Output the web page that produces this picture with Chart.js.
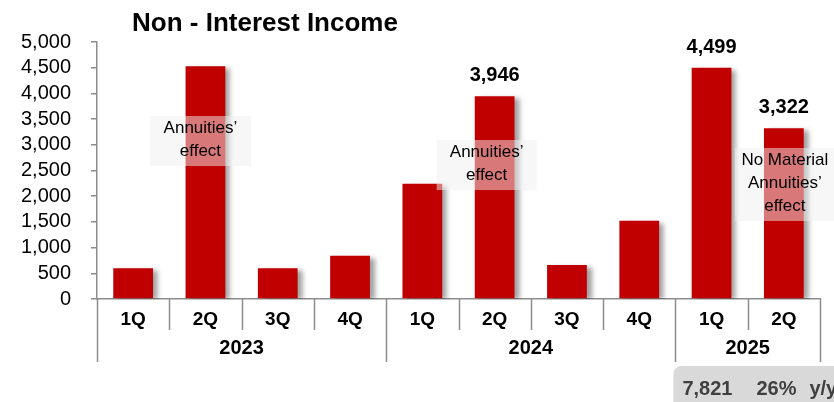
<!DOCTYPE html>
<html>
<head>
<meta charset="utf-8">
<script src="https://cdn.jsdelivr.net/npm/chart.js@4.4.1/dist/chart.umd.min.js"></script>
<style>
  html, body { margin: 0; padding: 0; background: #ffffff; }
  #wrap { width: 834px; height: 402px; position: relative; overflow: hidden; }
</style>
</head>
<body>
<div id="wrap"><canvas id="chart" width="834" height="402"></canvas></div>
<script>
// Quarterly non-interest income
const quarters = ['1Q', '2Q', '3Q', '4Q', '1Q', '2Q', '3Q', '4Q', '1Q', '2Q'];
const years    = ['2023', '2023', '2023', '2023', '2024', '2024', '2024', '2024', '2025', '2025'];
const income   = [600, 4530, 600, 840, 2240, 3946, 660, 1520, 4499, 3322];

// bars that carry a value label
const labelledBars = [5, 8, 9];

// call-outs over bars
const noteBars  = [1, 5, 9];
const noteTexts = [
  ['Annuities\u2019', 'effect'],
  ['Annuities\u2019', 'effect'],
  ['No Material', 'Annuities\u2019', 'effect']
];

const titleText = 'Non - Interest Income';

const FONT = "'Liberation Sans', Arial, Helvetica, sans-serif";
const AXIS_GRAY = '#8c8c8c';
const BAR_RED = '#c00000';

const fmt = v => Math.round(v).toLocaleString('en-US');

// Half-year total for the latest year and its growth on the same half a year earlier
const lastYear = years[years.length - 1];
const lastIdx = years.map((y, i) => y === lastYear ? i : -1).filter(i => i >= 0);
const halfTotal = lastIdx.reduce((s, i) => s + income[i], 0);
const prevHalf = lastIdx.reduce((s, i) => s + income[i - 4], 0);
const growthPct = Math.round((halfTotal / prevHalf - 1) * 100);

const barShadow = {
  id: 'barShadow',
  beforeDatasetsDraw(chart) {
    const ctx = chart.ctx;
    ctx.save();
    ctx.shadowColor = 'rgba(0,0,0,0.38)';
    ctx.shadowOffsetX = 5;
    ctx.shadowOffsetY = 2;
    ctx.shadowBlur = 5;
  },
  afterDatasetsDraw(chart) {
    chart.ctx.restore();
  }
};

// placement of the call-out boxes: horizontal shift from the bar centre (px), top edge as a y value
const noteLayout = [
  { dx: -5, top: 3560, w: 101 },
  { dx: -8, top: 3093, w: 100 },
  { dx: 1,  top: 2938, w: 100 }
];

const decorations = {
  id: 'decorations',
  afterDraw(chart) {
    const ctx = chart.ctx;
    const xs = chart.scales.x;
    const ys = chart.scales.y;
    const base = chart.chartArea.bottom;
    const meta = chart.getDatasetMeta(0);
    const n = quarters.length;
    const half = (xs.getPixelForValue(1) - xs.getPixelForValue(0)) / 2;
    const edge = i => i < n ? xs.getPixelForValue(i) - half : xs.getPixelForValue(n - 1) + half;

    ctx.save();

    // category separators: short between quarters, long between years
    ctx.strokeStyle = AXIS_GRAY;
    ctx.lineWidth = 1.5;
    for (let i = 0; i <= n; i++) {
      const isYear = i === 0 || i === n || years[i] !== years[i - 1];
      const x = Math.round(edge(i)) + 0.5;
      ctx.beginPath();
      ctx.moveTo(x, base);
      ctx.lineTo(x, base + (isYear ? 63 : 31));
      ctx.stroke();
    }

    // year labels centred under their quarters
    ctx.fillStyle = '#000';
    ctx.font = `bold 20px ${FONT}`;
    ctx.textAlign = 'center';
    ctx.textBaseline = 'middle';
    let start = 0;
    for (let i = 1; i <= n; i++) {
      if (i === n || years[i] !== years[start]) {
        const cx = (edge(start) + edge(i)) / 2;
        ctx.fillText(years[start], cx, base + 49);
        start = i;
      }
    }

    // title
    ctx.font = `bold 26px ${FONT}`;
    ctx.textAlign = 'center';
    ctx.textBaseline = 'alphabetic';
    ctx.fillText(titleText, 265, 31);

    // value labels above selected bars
    ctx.font = `bold 20px ${FONT}`;
    labelledBars.forEach(i => {
      const bar = meta.data[i];
      ctx.fillText(fmt(income[i]), bar.x, bar.y - 15);
    });

    // translucent call-out boxes
    noteBars.forEach((b, k) => {
      const lay = noteLayout[k];
      const lines = noteTexts[k];
      const cx = meta.data[b].x + lay.dx;
      const top = ys.getPixelForValue(lay.top);
      const h = lines.length * 23 + 4;
      ctx.fillStyle = 'rgba(240,240,240,0.5)';
      ctx.fillRect(cx - lay.w / 2, top, lay.w, h);
      ctx.fillStyle = '#000';
      ctx.font = `17px ${FONT}`;
      ctx.textAlign = 'center';
      ctx.textBaseline = 'alphabetic';
      lines.forEach((t, j) => ctx.fillText(t, cx, top + 17 + j * 23));
    });

    // half-year summary tab under the latest year
    const bx = edge(lastIdx[0]) - 2;
    const by = 366;
    ctx.fillStyle = '#d9d9d9';
    ctx.beginPath();
    ctx.roundRect(bx, by, 200, 60, 8);
    ctx.fill();
    ctx.fillStyle = '#404040';
    ctx.font = `bold 20px ${FONT}`;
    ctx.textAlign = 'left';
    ctx.textBaseline = 'alphabetic';
    ctx.fillText(fmt(halfTotal), bx + 9, 395);
    ctx.fillText(growthPct + '%', bx + 83, 395);
    ctx.fillText('y/y', bx + 136, 395);

    ctx.restore();
  }
};

new Chart(document.getElementById('chart'), {
  type: 'bar',
  data: {
    labels: quarters,
    datasets: [{
      data: income,
      backgroundColor: BAR_RED,
      borderWidth: 0,
      categoryPercentage: 1.0,
      barPercentage: 0.55
    }]
  },
  options: {
    responsive: false,
    animation: false,
    layout: { padding: { top: 42, right: 14, left: 0, bottom: 0 } },
    plugins: {
      legend: { display: false },
      tooltip: { enabled: false },
      title: { display: false }
    },
    scales: {
      x: {
        type: 'category',
        offset: true,
        grid: { display: true, drawOnChartArea: false, drawTicks: false },
        border: { color: AXIS_GRAY, width: 1.5 },
        ticks: {
          color: '#000',
          font: { family: FONT, size: 19, weight: 'bold' },
          padding: 9,
          maxRotation: 0,
          autoSkip: false
        },
        afterFit(scale) { scale.height = 103; }
      },
      y: {
        min: 0,
        max: 5000,
        grid: { drawOnChartArea: false, drawTicks: true, tickLength: 6, color: AXIS_GRAY, lineWidth: 1.5 },
        border: { color: AXIS_GRAY, width: 1.5 },
        ticks: {
          stepSize: 500,
          autoSkip: false,
          color: '#000',
          font: { family: FONT, size: 20 },
          padding: 20,
          callback: v => fmt(v)
        },
        afterFit(scale) { scale.width = 97; }
      }
    }
  },
  plugins: [barShadow, decorations]
});
</script>
</body>
</html>
